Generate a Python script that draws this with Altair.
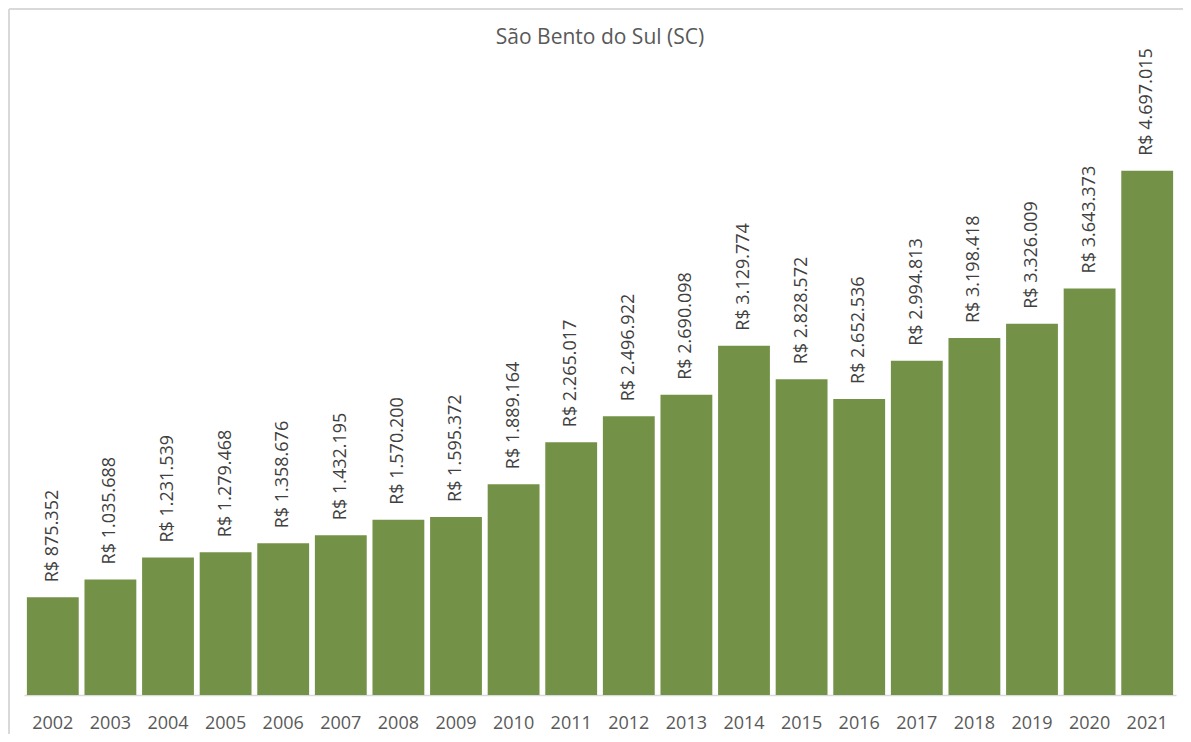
import altair as alt
import pandas as pd

years = ["2002", "2003", "2004", "2005", "2006", "2007", "2008", "2009", "2010", "2011",
         "2012", "2013", "2014", "2015", "2016", "2017", "2018", "2019", "2020", "2021"]
values = [875352, 1035688, 1231539, 1279468, 1358676, 1432195, 1570200, 1595372, 1889164, 2265017,
          2496922, 2690098, 3129774, 2828572, 2652536, 2994813, 3198418, 3326009, 3643373, 4697015]
title_text = "São Bento do Sul (SC)"

def brl(v):
    return "R$ " + f"{v:,}".replace(",", ".")

df = pd.DataFrame({"ano": years, "valor": values, "rotulo": [brl(v) for v in values]})

W, H = 1152, 558
PL, PT, PR, PB = 16, 129, 7, 39
FONT = "Open Sans"

x = alt.X("ano:N", sort=years,
          scale=alt.Scale(paddingInner=0.1, paddingOuter=0.05),
          axis=alt.Axis(title=None, labelAngle=0, ticks=False, domainColor="#d9d9d9",
                        domainWidth=1.5, labelFont=FONT, labelFontSize=18,
                        labelColor="#595959", labelPadding=19))
y = alt.Y("valor:Q", scale=alt.Scale(domain=[0, 5000000], nice=False), axis=None)

bars = alt.Chart(df).mark_bar(color="#739248").encode(x=x, y=y)
labels = alt.Chart(df).mark_text(angle=270, align="left", baseline="middle", dx=15,
                                 font=FONT, fontSize=18, color="#404040").encode(
    x=alt.X("ano:N", sort=years), y="valor:Q", text="rotulo:N")

one = alt.Data(values=[{"t": title_text}])
frame_top = alt.Chart(one).mark_rule(color="#d9d9d9", strokeWidth=2).encode(
    x=alt.value(-15), x2=alt.value(W + PR), y=alt.value(-128))
frame_left = alt.Chart(one).mark_rule(color="#d9d9d9", strokeWidth=2).encode(
    x=alt.value(-15), y=alt.value(-128), y2=alt.value(H + PB))
title = alt.Chart(one).mark_text(font=FONT, fontSize=21, color="#595959",
                                 align="center", baseline="middle").encode(
    x=alt.value(W / 2), y=alt.value(-99), text="t:N")

chart = alt.layer(frame_top, frame_left, title, bars, labels).properties(
    width=W, height=H,
    background="white",
    autosize=alt.AutoSizeParams(type="none"),
    padding={"left": PL, "top": PT, "right": PR, "bottom": PB},
).configure_view(strokeWidth=0, stroke=None)

chart.save("out.html", embed_options={"renderer": "svg", "actions": False})
